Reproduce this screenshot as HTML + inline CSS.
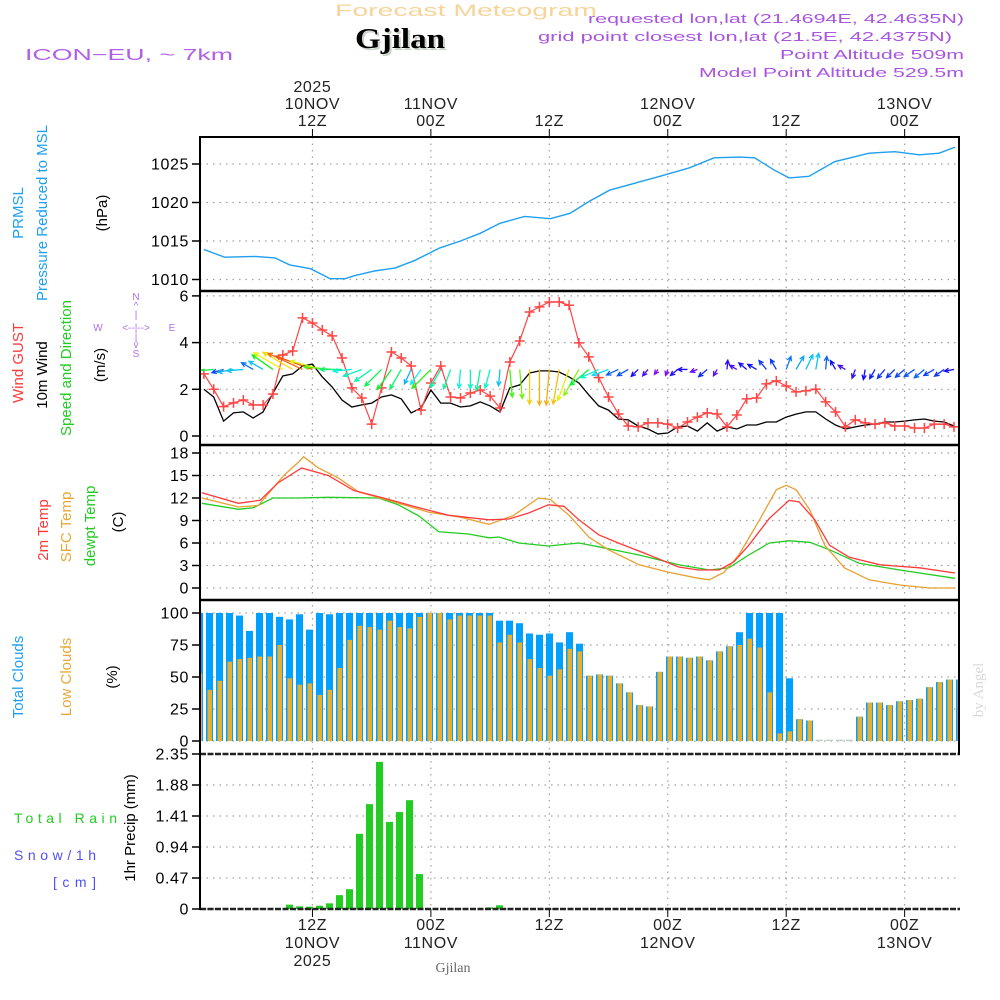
<!DOCTYPE html>
<html><head><meta charset="utf-8"><style>
html,body{margin:0;padding:0;background:#fff;}
svg{display:block;font-family:"Liberation Sans",sans-serif;}
</style></head><body>
<svg id="chart" width="1000" height="1000" viewBox="0 0 1000 1000" xmlns="http://www.w3.org/2000/svg">
<rect width="1000" height="1000" fill="#fff"/>
<text x="466" y="16" text-anchor="middle" font-size="17" fill="#f6d49a" textLength="262" lengthAdjust="spacingAndGlyphs">Forecast Meteogram</text>
<text x="402" y="50" text-anchor="middle" font-family="Liberation Serif,serif" font-weight="bold" font-size="29" fill="#c8d4c8" textLength="90" lengthAdjust="spacingAndGlyphs">Gjilan</text>
<text x="400" y="48" text-anchor="middle" font-family="Liberation Serif,serif" font-weight="bold" font-size="29" fill="#000" textLength="90" lengthAdjust="spacingAndGlyphs">Gjilan</text>
<text x="25" y="60" font-size="16" fill="#b060e8" textLength="208" lengthAdjust="spacingAndGlyphs">ICON−EU, ~ 7km</text>
<g fill="#a855e0" font-size="13" text-anchor="end">
<text x="964" y="23" textLength="376" lengthAdjust="spacingAndGlyphs">requested lon,lat (21.4694E, 42.4635N)</text>
<text x="952" y="41" textLength="414" lengthAdjust="spacingAndGlyphs">grid point closest lon,lat (21.5E, 42.4375N)</text>
<text x="964" y="59" textLength="184" lengthAdjust="spacingAndGlyphs">Point Altitude 509m</text>
<text x="964" y="77" textLength="265" lengthAdjust="spacingAndGlyphs">Model Point Altitude 529.5m</text>
</g>
<g font-size="15">
<text transform="translate(23,213) rotate(-90)" text-anchor="middle" fill="#1da0f0">PRMSL</text>
<text transform="translate(47,213) rotate(-90)" text-anchor="middle" fill="#1da0f0">Pressure Reduced to MSL</text>
<text transform="translate(107,213) rotate(-90)" text-anchor="middle" fill="#000">(hPa)</text>
<text transform="translate(23,363) rotate(-90)" text-anchor="middle" fill="#ff3a3a">Wind GUST</text>
<text transform="translate(47,375) rotate(-90)" text-anchor="middle" fill="#000">10m Wind</text>
<text transform="translate(71,368) rotate(-90)" text-anchor="middle" fill="#22cc22">Speed and Direction</text>
<text transform="translate(105,365) rotate(-90)" text-anchor="middle" fill="#000">(m/s)</text>
<text transform="translate(48,530) rotate(-90)" text-anchor="middle" fill="#ff3a3a">2m Temp</text>
<text transform="translate(71,527) rotate(-90)" text-anchor="middle" fill="#e8a838">SFC Temp</text>
<text transform="translate(95,526) rotate(-90)" text-anchor="middle" fill="#22cc22">dewpt Temp</text>
<text transform="translate(123,522) rotate(-90)" text-anchor="middle" fill="#000">(C)</text>
<text transform="translate(23,677) rotate(-90)" text-anchor="middle" fill="#1da0f0">Total Clouds</text>
<text transform="translate(71,677) rotate(-90)" text-anchor="middle" fill="#e8a838">Low Clouds</text>
<text transform="translate(117,677) rotate(-90)" text-anchor="middle" fill="#000">(%)</text>
<text transform="translate(135,828) rotate(-90)" text-anchor="middle" fill="#000">1hr Precip (mm)</text>
</g>
<g font-size="14">
<text x="14" y="823" fill="#22cc22" textLength="103" lengthAdjust="spacing">Total  Rain</text>
<text x="14" y="860" fill="#5050f0" textLength="82" lengthAdjust="spacing">Snow/1h</text>
<text x="53" y="887" fill="#5050f0" textLength="43" lengthAdjust="spacing">[cm]</text>
</g>
<g font-size="10" fill="#b070e8" text-anchor="middle">
<text x="136" y="300">N</text><text x="136" y="309">^</text><text x="136" y="318">|</text>
<text x="98" y="331">W</text><text x="136" y="331">&lt;--|--&gt;</text><text x="172" y="331">E</text>
<text x="136" y="341">|</text><text x="136" y="348">v</text><text x="136" y="357">S</text>
</g>
<text transform="translate(983,690) rotate(-90)" text-anchor="middle" font-family="Liberation Serif,serif" font-size="15" fill="#d8d8d8">by Angel</text>
<text x="453" y="972" text-anchor="middle" font-family="Liberation Serif,serif" font-size="14" fill="#666">Gjilan</text>
<g id="plot"></g>
</svg>
<script>
// ---- data ----
const timeTicks = [12,24,36,48,60,72];
const topTickLabels = [["2025","10NOV","12Z"],["11NOV","00Z"],["12Z"],["12NOV","00Z"],["12Z"],["13NOV","00Z"]];
const bottomTickLabels = [["12Z","10NOV","2025"],["00Z","11NOV"],["12Z"],["00Z","12NOV"],["12Z"],["00Z","13NOV"]];

const pressureHours = [1.0,3.1,6.2,8.2,9.7,11.8,13.8,15.3,16.3,18.3,20.4,22.4,24.9,27.0,29.0,31.0,33.5,36.1,38.1,40.1,42.1,45.2,47.2,50.2,52.7,55.3,56.8,58.8,60.3,62.3,64.9,68.4,71.0,73.5,75.5,77.1];
const pressureValues = [1013.9,1012.9,1013.0,1012.8,1011.9,1011.4,1010.1,1010.1,1010.5,1011.1,1011.5,1012.5,1014.1,1015.0,1016.0,1017.3,1018.2,1017.9,1018.6,1020.2,1021.6,1022.7,1023.4,1024.5,1025.8,1025.9,1025.8,1024.2,1023.2,1023.4,1025.3,1026.4,1026.6,1026.2,1026.4,1027.2];
const pressureTicks = [1010,1015,1020,1025];

const gustValues = [2.66,2.0,1.26,1.42,1.54,1.33,1.33,1.8,3.47,3.64,5.06,4.84,4.54,4.29,3.34,2.06,1.63,0.51,2.06,3.6,3.34,3.0,1.11,2.27,3.0,1.67,1.63,1.84,1.97,1.71,1.2,3.17,4.07,5.31,5.53,5.74,5.74,5.6,3.99,3.39,2.5,1.67,0.94,0.43,0.39,0.56,0.56,0.51,0.34,0.6,0.81,0.99,0.94,0.39,0.9,1.59,1.63,2.23,2.36,2.14,1.89,1.93,2.01,1.46,1.03,0.39,0.69,0.56,0.51,0.56,0.43,0.43,0.34,0.34,0.51,0.51,0.39];
const windValues = [2.0,1.67,0.64,0.99,1.03,0.77,1.03,1.84,2.57,2.66,3.0,3.08,2.53,2.1,1.54,1.24,1.33,1.41,1.67,1.76,1.59,0.99,1.2,1.97,1.41,1.41,1.24,1.29,1.46,1.29,1.03,2.06,2.19,2.7,2.79,2.79,2.74,2.53,2.27,1.76,1.29,1.11,0.73,0.69,0.43,0.3,0.09,0.13,0.39,0.43,0.21,0.56,0.21,0.39,0.3,0.47,0.47,0.6,0.6,0.81,0.94,1.03,1.03,0.73,0.47,0.3,0.39,0.47,0.51,0.6,0.6,0.64,0.69,0.73,0.64,0.6,0.43];
const windDirTo = [260,265,255,260,265,300,300,305,300,300,295,290,285,275,270,265,250,235,225,215,210,205,215,225,210,200,185,180,190,195,185,175,175,180,180,185,190,200,210,230,245,250,245,240,225,220,215,200,230,270,250,230,210,5,300,310,300,320,330,20,30,25,10,5,330,300,200,190,210,220,225,230,235,230,240,235,260];
const windTicks = [0,2,4,6];

const temp2mHours = [0.8,4.5,6.7,8.5,10.9,13.6,16.2,19.2,22.8,25.8,29.9,31.9,33.9,35.9,37.5,39.0,41.0,43.0,46.1,49.1,51.1,53.2,54.7,56.2,58.3,60.3,61.3,62.9,64.4,66.4,69.5,73.5,77.1];
const temp2mValues = [12.7,11.3,11.7,14,16,15,13,12,10.7,9.7,9.1,9.2,10,11.1,10.9,9.1,7.1,6,4.4,2.8,2.4,2.4,3.5,5.7,9.3,11.7,11.5,9.1,5.7,4.1,3.1,2.7,2.0];
const sfcHours = [0.8,4.5,6.5,9.1,10.6,11.1,12.6,14.6,16.7,19.7,23.8,26.8,29.9,32.4,34.9,36.1,38.0,40.0,42.0,45.1,48.1,51.1,52.2,53.7,55.2,57.3,59.0,60.0,61.0,62.4,63.9,65.9,68.4,71.5,74.5,77.1];
const sfcValues = [12,10.8,11,15,16.8,17.5,16,14.7,12.8,11.7,10.1,9.5,8.5,9.7,12,11.8,9.7,6.8,5.1,3.1,2.1,1.3,1.1,2.1,4.4,9.1,13.1,13.7,13.1,10.4,5.7,2.7,1.1,0.4,0,0];
const dewHours = [0.8,4.5,6.0,8.0,10.6,13.6,18.7,20.7,22.8,24.8,27.8,29.9,30.9,32.9,35.9,39.0,41.0,45.1,49.1,52.2,54.2,56.2,58.3,60.3,62.4,64.4,67.4,71.5,77.1];
const dewValues = [11.3,10.5,10.7,12,12,12.1,12,11.1,9.6,7.5,7.2,6.7,6.8,6,5.6,6,5.5,4.4,3.1,2.4,2.7,4.4,6,6.3,6.1,5.1,3.3,2.4,1.3];
const tempTicks = [0,3,6,9,12,15,18];

const totalClouds = [100,100,100,100,98,86,100,100,97,95,99,87,100,99,100,100,100,100,100,100,100,100,100,100,100,100,100,100,100,100,94,94,92,84,83,84,77,85,76,51,52,51,45,38,28,27,54,66,66,65,66,63,70,74,85,100,100,100,100,49,17,16,1,1,1,1,19,30,30,28,31,32,33,42,46,48,48];
const lowClouds = [53,40,47,62,64,65,66,66,75,49,44,45,36,40,57,79,90,89,87,94,89,88,97,100,100,95,98,98,98,98,77,83,77,64,57,51,56,72,70,51,52,51,45,38,28,27,54,66,66,65,66,63,70,74,75,80,73,38,6,7.5,17,16,1,1,1,1,19,30,30,28,31,32,33,42,46,48,48];
const cloudTicks = [0,25,50,75,100];

const precipValues = [0,0,0,0,0,0,0,0,0,0.066,0.04,0.035,0.05,0.086,0.21,0.3,1.14,1.59,2.23,1.32,1.47,1.65,0.53,0,0,0,0,0,0,0.025,0.056,0,0,0,0,0,0,0,0,0,0,0,0,0,0,0,0,0,0,0,0,0,0,0,0,0,0,0,0,0,0,0,0,0,0,0,0,0,0,0,0,0,0,0,0,0,0];
const precipTicks = [0,0.47,0.94,1.41,1.88,2.35];

// ---- scales ----
const L = 200, R = 959;
function xH(h){ return 194 + h*9.87; }
function xBar(k){ return 196 + k*10; }
function yP(v){ return 164 + (1025 - v)*7.7; }
function yW(v){ return 436 - v*23.35; }
function yT(v){ return 588 - v*7.5; }
function yC(v){ return 741 - v*1.28; }
function yR(v){ return 909 - v*(155/2.35); }

const NS = "http://www.w3.org/2000/svg";
const plot = document.getElementById('plot');
function mk(tag, attrs, parent){
  const e = document.createElementNS(NS, tag);
  for (const k in attrs) e.setAttribute(k, attrs[k]);
  (parent || plot).appendChild(e);
  return e;
}
const clip = mk('clipPath', {id:'clipPlot'});
mk('rect', {x:L, y:130, width:R-L, height:790}, clip);

const gridG = mk('g', {stroke:'#a0a0a0', 'stroke-width':1.2, 'stroke-dasharray':'1.5,5'});


timeTicks.forEach(h => {
  const g = mk('line', {x1:xH(h), x2:xH(h), y1:137, y2:909}, gridG);
  
  
});
function hGrid(ticks, yf, name){
  ticks.forEach(t => {
    const g = mk('line', {x1:L, x2:R, y1:yf(t), y2:yf(t)}, gridG);
    
    
  });
}
hGrid(pressureTicks, yP, 'pressure-gridline');
hGrid(windTicks, yW, 'wind-gridline');
hGrid(tempTicks, yT, 'temp-gridline');
hGrid(cloudTicks, yC, 'cloud-gridline');
hGrid(precipTicks.slice(0,5), yR, 'precip-gridline');

function yAxis(ticks, yf, name, fmt){
  ticks.forEach(t => {
    const tk = mk('line', {x1:192, x2:L, y1:yf(t), y2:yf(t), stroke:'#000', 'stroke-width':1.5});
    
    
    const tx = mk('text', {x:189, y:yf(t)+5.5, 'text-anchor':'end', 'font-size':16, 'letter-spacing':'0.6', fill:'#000'});
    tx.textContent = fmt ? fmt(t) : String(t);
    
    
  });
}
yAxis(pressureTicks, yP, 'pressure-axis');
yAxis(windTicks, yW, 'wind-axis');
yAxis(tempTicks, yT, 'temp-axis');
yAxis(cloudTicks, yC, 'cloud-axis');
yAxis(precipTicks, yR, 'precip-axis', t => t === 0 ? '0' : t.toFixed(2));

timeTicks.forEach((h, i) => {
  const x = xH(h);
  const t1 = mk('line', {x1:x, x2:x, y1:129, y2:137, stroke:'#000', 'stroke-width':1});
  
  
  const t2 = mk('line', {x1:x, x2:x, y1:909, y2:917, stroke:'#000', 'stroke-width':1});
  
  
  const top = topTickLabels[i];
  top.forEach((s, j) => {
    const tx = mk('text', {x:x, y:126 - (top.length-1-j)*17, 'text-anchor':'middle', 'font-size':16, 'letter-spacing':'0.6', fill:'#222'});
    tx.textContent = s;
    
    
  });
  bottomTickLabels[i].forEach((s, j) => {
    const tx = mk('text', {x:x, y:930 + j*18, 'text-anchor':'middle', 'font-size':16, 'letter-spacing':'0.6', fill:'#222'});
    tx.textContent = s;
    
    
  });
});

function line(hours, vals, xf, yf, color, w, name){
  const p = mk('polyline', {points: hours.map((h,i)=>xf(h).toFixed(1)+','+yf(vals[i]).toFixed(1)).join(' '), fill:'none', stroke:color, 'stroke-width':w, 'clip-path':'url(#clipPlot)'});
  
  
  return p;
}
line(pressureHours, pressureValues, xH, yP, '#1e9ff0', 1.4, 'pressure-line');

const gustHours = gustValues.map((v,i)=>i+1);
const windHours = windValues.map((v,i)=>i+1);
line(windHours, windValues, xH, yW, '#000', 1.3, 'wind-speed-line');
line(gustHours, gustValues, xH, yW, '#ff4545', 1.2, 'wind-gust-line');
gustValues.forEach((v,i) => {
  const x = xH(gustHours[i]), y = yW(v);
  const m = mk('path', {d:`M${x-5},${y}H${x+5}M${x},${y-5}V${y+5}`, stroke:'#ff4545', 'stroke-width':1.5, fill:'none'});
  
  
});
const arrowBaseY = yW(2.85);
windDirTo.forEach((d,i) => {
  const sp = windValues[i];
  const len = 5 + sp*11;
  const a = d*Math.PI/180;
  const x0 = xH(i+1), y0 = arrowBaseY;
  const x1 = x0 + Math.sin(a)*len, y1 = y0 - Math.cos(a)*len;
  const hue = Math.max(0, Math.min(280, 280 - sp*85));
  const col = `hsl(${hue},90%,50%)`;
  const back = Math.atan2(y0-y1, x0-x1);
  const hl = 5;
  const hx1 = x1 + Math.cos(back+0.45)*hl, hy1 = y1 + Math.sin(back+0.45)*hl;
  const hx2 = x1 + Math.cos(back-0.45)*hl, hy2 = y1 + Math.sin(back-0.45)*hl;
  const ar = mk('path', {d:`M${x0},${y0}L${x1},${y1}M${hx1},${hy1}L${x1},${y1}L${hx2},${hy2}`, stroke:col, 'stroke-width':1.3, fill:'none', 'clip-path':'url(#clipPlot)'});
  
  
});

line(dewHours, dewValues, xH, yT, '#22cc22', 1.3, 'dewpoint-line');
line(sfcHours, sfcValues, xH, yT, '#e8a030', 1.3, 'sfc-temp-line');
line(temp2mHours, temp2mValues, xH, yT, '#ff3a3a', 1.3, 'temp-2m-line');

totalClouds.forEach((v,k) => {
  const x = xBar(k);
  const b = mk('rect', {x:x, y:yC(v), width:7, height:yC(0)-yC(v), fill: v <= 1 ? '#b8cce0' : '#00a0ff', 'clip-path':'url(#clipPlot)'});
  
  
  const lv = lowClouds[k];
  const b2 = mk('rect', {x:x+1.5, y:yC(lv), width:4.5, height:yC(0)-yC(lv), fill: lv <= 1 ? '#c8d0b8' : '#e8b030', 'clip-path':'url(#clipPlot)'});
  
  
});

precipValues.forEach((v,k) => {
  if (v <= 0) return;
  const b = mk('rect', {x:xBar(k), y:yR(v), width:7, height:yR(0)-yR(v), fill:'#22cc22'});
  
  
});

const fr = mk('g', {stroke:'#000', fill:'none'});


mk('line', {x1:L, x2:R, y1:137, y2:137, 'stroke-width':2}, fr);
[291,445,600].forEach(y => mk('line', {x1:L, x2:R, y1:y, y2:y, 'stroke-width':2.5}, fr));
mk('line', {x1:L, x2:R+1, y1:754, y2:754, 'stroke-width':2.5, 'stroke-dasharray':'6,1.5', stroke:'#222'}, fr);
mk('line', {x1:L, x2:R+1, y1:909, y2:909, 'stroke-width':2.5, 'stroke-dasharray':'6,1.5', stroke:'#222'}, fr);
mk('line', {x1:L, x2:L, y1:136, y2:910, 'stroke-width':2}, fr);
mk('line', {x1:R, x2:R, y1:136, y2:755, 'stroke-width':2}, fr);
</script>
</body></html>
